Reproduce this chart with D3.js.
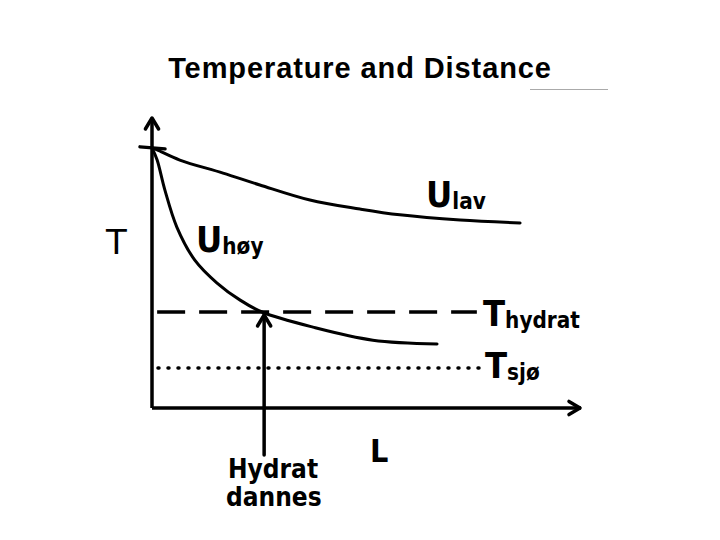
<!DOCTYPE html>
<html>
<head>
<meta charset="utf-8">
<script src="https://cdn.jsdelivr.net/npm/d3@7"></script>
<style>
  body { margin: 0; background: #fff; }
  svg text { font-family: "Liberation Sans Narrow", "DejaVu Sans Condensed", sans-serif; }
  svg text.title { font-family: "Liberation Sans", Arial, sans-serif; }
</style>
</head>
<body>
<div id="graph"></div>
<script>
"use strict";
// sketch values, in axis units (L: 0-100, T: 0-100)
const uLavL = [0, 1.2, 6.5, 16.6, 25.2, 36.9, 48.6, 57.9, 72.0, 86.0];
const uLavT = [89.7, 89.0, 85.5, 81.0, 76.9, 71.7, 68.6, 66.6, 64.8, 63.8];
const uHoyL = [0, 1.2, 3.0, 5.8, 10.0, 15.2, 20.6, 25.7, 37.6, 51.6, 66.6];
const uHoyT = [89.7, 85.5, 75.2, 62.4, 51.0, 43.1, 37.2, 33.1, 27.9, 23.4, 22.1];
const tHydrat = 33.1;
const tHydratL = [1.2, 75.9];
const tSjo = 13.8;
const tSjoL = [1.4, 78.3];
const hydratDannesL = 26.2;

(function() {
    const width = 720, height = 540;
    const svg = d3.select("#graph").append("svg")
        .attr("width", width).attr("height", height);

    const x = d3.scaleLinear().domain([0, 100]).range([152, 580]);
    const y = d3.scaleLinear().domain([0, 100]).range([408, 118]);

    // title
    svg.append("text")
        .attr("class", "title")
        .attr("x", 360).attr("y", 78)
        .attr("text-anchor", "middle")
        .style("font-weight", "bold")
        .style("font-size", "29px")
        .style("letter-spacing", "0.9px")
        .text("Temperature and Distance");
    svg.append("line")
        .attr("x1", 530).attr("x2", 608).attr("y1", 89.5).attr("y2", 89.5)
        .attr("stroke", "#aaa").attr("stroke-width", 1);

    // axes (no ticks, drawn by d3 axis)
    svg.append("g")
        .attr("transform", "translate(" + x(0) + ",0)")
        .call(d3.axisLeft(y).tickValues([]).tickSizeOuter(0))
        .call(g => g.select(".domain").attr("stroke-width", 3.5).attr("d", "M0," + y(0) + "V" + (y(100) + 2)));
    svg.append("g")
        .attr("transform", "translate(0," + y(0) + ")")
        .call(d3.axisBottom(x).tickValues([]).tickSizeOuter(0))
        .call(g => g.select(".domain").attr("stroke-width", 3.5).attr("d", "M" + x(0) + ",0H" + (x(100) + 1)));

    const arrow = (px, py, dir) => {
        const s = 11;
        let d;
        if (dir === "up") d = "M" + (px - s * 0.6) + "," + (py + s) + "L" + px + "," + py + "L" + (px + s * 0.6) + "," + (py + s);
        else d = "M" + (px - s) + "," + (py - s * 0.6) + "L" + px + "," + py + "L" + (px - s) + "," + (py + s * 0.6);
        svg.append("path").attr("d", d).attr("fill", "none").attr("stroke", "#000")
            .attr("stroke-width", 3.5).attr("stroke-linecap", "round").attr("stroke-linejoin", "round");
    };
    arrow(x(0), y(100), "up");
    arrow(x(100), y(0), "right");

    // top tick where curves start
    svg.append("line")
        .attr("x1", x(0) - 12).attr("x2", x(0) + 13)
        .attr("y1", y(uLavT[0]) - 1).attr("y2", y(uLavT[0]) + 1)
        .attr("stroke", "#000").attr("stroke-width", 3.5).attr("stroke-linecap", "round");

    const line = d3.line().x(d => x(d[0])).y(d => y(d[1])).curve(d3.curveCatmullRom);

    svg.append("path")
        .attr("d", line(d3.zip(uLavL, uLavT)))
        .attr("fill", "none").attr("stroke", "#000").attr("stroke-width", 3).attr("stroke-linecap", "round");
    svg.append("path")
        .attr("d", line(d3.zip(uHoyL, uHoyT)))
        .attr("fill", "none").attr("stroke", "#000").attr("stroke-width", 3).attr("stroke-linecap", "round");

    // T hydrat dashed
    svg.append("line")
        .attr("x1", x(tHydratL[0])).attr("x2", x(tHydratL[1]))
        .attr("y1", y(tHydrat)).attr("y2", y(tHydrat))
        .attr("stroke", "#000").attr("stroke-width", 3.5)
        .attr("stroke-dasharray", "28 14");

    // T sjo dotted
    svg.append("line")
        .attr("x1", x(tSjoL[0])).attr("x2", x(tSjoL[1]))
        .attr("y1", y(tSjo)).attr("y2", y(tSjo))
        .attr("stroke", "#000").attr("stroke-width", 3.5).attr("stroke-linecap", "round")
        .attr("stroke-dasharray", "1 9");

    // hydrat dannes arrow
    svg.append("line")
        .attr("x1", x(hydratDannesL)).attr("x2", x(hydratDannesL))
        .attr("y1", y(tHydrat) + 3).attr("y2", 455)
        .attr("stroke", "#000").attr("stroke-width", 3.5).attr("stroke-linecap", "round");
    arrow(x(hydratDannesL), y(tHydrat) + 3, "up");

    // labels
    const label = (lx, ly, main, sub, size) => {
        const t = svg.append("text").attr("x", lx).attr("y", ly)
            .style("font-size", size + "px").style("font-weight", "bold");
        t.append("tspan").text(main);
        if (sub) t.append("tspan").attr("dy", 2).style("font-size", (size * 0.62) + "px").text(sub);
        return t;
    };
    label(106, 254, "T", null, 34).style("font-weight", "normal").style("font-family", "DejaVu Sans, sans-serif");
    label(196, 252, "U", "høy", 36);
    label(426, 207, "U", "lav", 36);
    label(483, 326, "T", "hydrat", 36);
    label(485, 378, "T", "sjø", 36);
    label(370, 462, "L", null, 32);
    label(228, 478, "Hydrat", null, 26);
    label(226, 506, "dannes", null, 26);
})();
</script>
</body>
</html>
